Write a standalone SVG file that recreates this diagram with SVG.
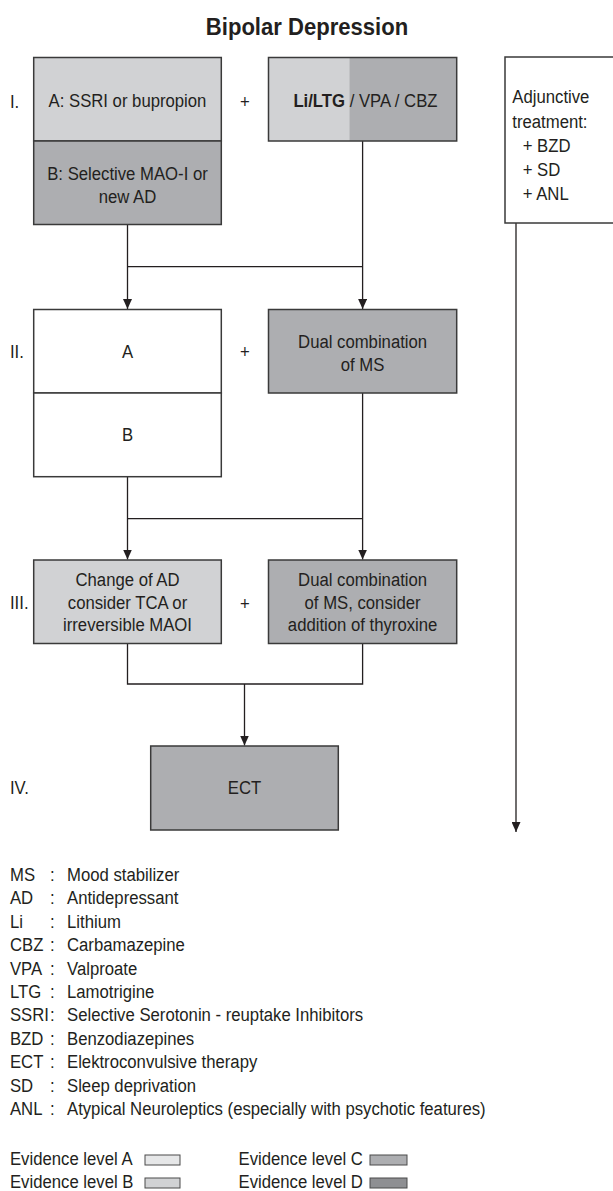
<svg xmlns="http://www.w3.org/2000/svg" width="613" height="1191" viewBox="0 0 613 1191">
<style>
.t{font-family:"Liberation Sans",Arial,sans-serif;font-size:19px;fill:#231f20}
.m{text-anchor:middle}
.b{font-weight:bold}
.box{stroke:#3a3a3a;stroke-width:1.5}
.lvA{fill:#e6e7e8}
.lvB{fill:#d1d2d4}
.lvC{fill:#adaeb1}
.lvD{fill:#8e8f92}
.w{fill:#ffffff}
.ln{fill:none;stroke:#231f20;stroke-width:1.3}
.sw{stroke:#4a4a4a;stroke-width:1}
</style>
<defs>
<marker id="arr" markerUnits="userSpaceOnUse" markerWidth="10" markerHeight="9" refX="10" refY="4.5" orient="auto">
<path d="M0,0 L10,4.5 L0,9 z" fill="#231f20"/>
</marker>
</defs>

<text x="307" y="35" class="t m b" font-size="23" transform="scale(0.96 1)" style="font-size:23px" dx="12.8">Bipolar Depression</text>

<g id="connectors">
<path class="ln" d="M127.5,224.5 V309" marker-end="url(#arr)"/>
<path class="ln" d="M362.6,141 V309" marker-end="url(#arr)"/>
<path class="ln" d="M127.5,266.7 H362.6"/>
<path class="ln" d="M127.5,476.7 V559.5" marker-end="url(#arr)"/>
<path class="ln" d="M362.6,393 V559.5" marker-end="url(#arr)"/>
<path class="ln" d="M127.5,518.7 H362.6"/>
<path class="ln" d="M127.5,643.5 V684 H362.6 V643.5"/>
<path class="ln" d="M244.5,684 V745.5" marker-end="url(#arr)"/>
<path class="ln" d="M516,223 V832" marker-end="url(#arr)"/>
</g>

<g id="labels">
<text class="t" transform="scale(0.88 1)" x="11.36" y="108">I.</text>
<text class="t" transform="scale(0.88 1)" x="11.36" y="358">II.</text>
<text class="t" transform="scale(0.88 1)" x="11.36" y="609">III.</text>
<text class="t" transform="scale(0.88 1)" x="11.36" y="794.5">IV.</text>
<text class="t m" transform="scale(0.88 1)" x="278.41" y="108">+</text>
<text class="t m" transform="scale(0.88 1)" x="278.41" y="358">+</text>
<text class="t m" transform="scale(0.88 1)" x="278.41" y="610">+</text>
</g>

<g id="node-1A">
<rect class="box lvB" x="33.7" y="57.5" width="187.6" height="83.5"/>
<text class="t m" transform="scale(0.88 1)" x="144.89" y="107.5">A: SSRI or bupropion</text>
</g>
<g id="node-1B">
<rect class="box lvC" x="33.7" y="141" width="187.6" height="83.5"/>
<text class="t m" transform="scale(0.88 1)" x="144.89" y="180.5">B: Selective MAO-I or</text>
<text class="t m" transform="scale(0.88 1)" x="144.89" y="203.5">new AD</text>
</g>
<g id="node-1MS">
<rect class="lvB" x="268.5" y="57.5" width="80.8" height="83.5"/>
<rect class="lvC" x="349.3" y="57.5" width="107.4" height="83.5"/>
<rect class="box" fill="none" x="268.5" y="57.5" width="188.2" height="83.5"/>
<text class="t m" transform="scale(0.88 1)" x="415.3" y="107.5"><tspan class="b">Li/LTG</tspan> / VPA / CBZ</text>
</g>
<g id="node-adjunctive">
<rect class="box w" x="505" y="57" width="120" height="166"/>
<text class="t" transform="scale(0.88 1)" x="582.2" y="103">Adjunctive</text>
<text class="t" transform="scale(0.88 1)" x="582.2" y="128">treatment:</text>
<text class="t" transform="scale(0.88 1)" x="594" y="152.5">+ BZD</text>
<text class="t" transform="scale(0.88 1)" x="594" y="176.5">+ SD</text>
<text class="t" transform="scale(0.88 1)" x="594" y="200">+ ANL</text>
</g>

<g id="node-2A">
<rect class="box w" x="33.7" y="309.5" width="187.6" height="83.5"/>
<text class="t m" transform="scale(0.88 1)" x="144.89" y="358">A</text>
</g>
<g id="node-2B">
<rect class="box w" x="33.7" y="393" width="187.6" height="83.7"/>
<text class="t m" transform="scale(0.88 1)" x="144.89" y="441.5">B</text>
</g>
<g id="node-2MS">
<rect class="box lvC" x="268.5" y="309.5" width="188.2" height="83.5"/>
<text class="t m" transform="scale(0.88 1)" x="412.05" y="348">Dual combination</text>
<text class="t m" transform="scale(0.88 1)" x="412.05" y="371.5">of MS</text>
</g>

<g id="node-3AD">
<rect class="box lvB" x="33.7" y="560" width="187.6" height="83.5"/>
<text class="t m" transform="scale(0.88 1)" x="144.89" y="586">Change of AD</text>
<text class="t m" transform="scale(0.88 1)" x="144.89" y="609">consider TCA or</text>
<text class="t m" transform="scale(0.88 1)" x="144.89" y="631.5">irreversible MAOI</text>
</g>
<g id="node-3MS">
<rect class="box lvC" x="268.5" y="560" width="188.2" height="83.5"/>
<text class="t m" transform="scale(0.88 1)" x="412.05" y="586">Dual combination</text>
<text class="t m" transform="scale(0.88 1)" x="412.05" y="609">of MS, consider</text>
<text class="t m" transform="scale(0.88 1)" x="412.05" y="631.5">addition of thyroxine</text>
</g>

<g id="node-ECT">
<rect class="box lvC" x="150.7" y="746" width="187.6" height="84"/>
<text class="t m" transform="scale(0.88 1)" x="277.84" y="794.5">ECT</text>
</g>

<g id="legend">
<text class="t" transform="scale(0.88 1)" x="11.36" y="881">MS</text>
<text class="t" transform="scale(0.88 1)" x="56.82" y="881">:</text>
<text class="t" transform="scale(0.88 1)" x="76.14" y="881">Mood stabilizer</text>
<text class="t" transform="scale(0.88 1)" x="11.36" y="904.4">AD</text>
<text class="t" transform="scale(0.88 1)" x="56.82" y="904.4">:</text>
<text class="t" transform="scale(0.88 1)" x="76.14" y="904.4">Antidepressant</text>
<text class="t" transform="scale(0.88 1)" x="11.36" y="927.8">Li</text>
<text class="t" transform="scale(0.88 1)" x="56.82" y="927.8">:</text>
<text class="t" transform="scale(0.88 1)" x="76.14" y="927.8">Lithium</text>
<text class="t" transform="scale(0.88 1)" x="11.36" y="951.2">CBZ</text>
<text class="t" transform="scale(0.88 1)" x="56.82" y="951.2">:</text>
<text class="t" transform="scale(0.88 1)" x="76.14" y="951.2">Carbamazepine</text>
<text class="t" transform="scale(0.88 1)" x="11.36" y="974.6">VPA</text>
<text class="t" transform="scale(0.88 1)" x="56.82" y="974.6">:</text>
<text class="t" transform="scale(0.88 1)" x="76.14" y="974.6">Valproate</text>
<text class="t" transform="scale(0.88 1)" x="11.36" y="998">LTG</text>
<text class="t" transform="scale(0.88 1)" x="56.82" y="998">:</text>
<text class="t" transform="scale(0.88 1)" x="76.14" y="998">Lamotrigine</text>
<text class="t" transform="scale(0.88 1)" x="11.36" y="1021.4">SSRI</text>
<text class="t" transform="scale(0.88 1)" x="56.82" y="1021.4">:</text>
<text class="t" transform="scale(0.88 1)" x="76.14" y="1021.4">Selective Serotonin - reuptake Inhibitors</text>
<text class="t" transform="scale(0.88 1)" x="11.36" y="1044.8">BZD</text>
<text class="t" transform="scale(0.88 1)" x="56.82" y="1044.8">:</text>
<text class="t" transform="scale(0.88 1)" x="76.14" y="1044.8">Benzodiazepines</text>
<text class="t" transform="scale(0.88 1)" x="11.36" y="1068.2">ECT</text>
<text class="t" transform="scale(0.88 1)" x="56.82" y="1068.2">:</text>
<text class="t" transform="scale(0.88 1)" x="76.14" y="1068.2">Elektroconvulsive therapy</text>
<text class="t" transform="scale(0.88 1)" x="11.36" y="1091.6">SD</text>
<text class="t" transform="scale(0.88 1)" x="56.82" y="1091.6">:</text>
<text class="t" transform="scale(0.88 1)" x="76.14" y="1091.6">Sleep deprivation</text>
<text class="t" transform="scale(0.88 1)" x="11.36" y="1115">ANL</text>
<text class="t" transform="scale(0.88 1)" x="56.82" y="1115">:</text>
<text class="t" transform="scale(0.88 1)" x="76.14" y="1115">Atypical Neuroleptics (especially with psychotic features)</text>
</g>

<g id="evidence-legend">
<text class="t" transform="scale(0.88 1)" x="11.36" y="1165">Evidence level A</text>
<rect class="sw lvA" x="145" y="1155" width="35" height="10"/>
<text class="t" transform="scale(0.88 1)" x="11.36" y="1188">Evidence level B</text>
<rect class="sw lvB" x="145" y="1178" width="35" height="10"/>
<text class="t" transform="scale(0.88 1)" x="271.02" y="1165">Evidence level C</text>
<rect class="sw lvC" x="370" y="1155" width="37" height="10"/>
<text class="t" transform="scale(0.88 1)" x="271.02" y="1188">Evidence level D</text>
<rect class="sw lvD" x="370" y="1178" width="37" height="10"/>
</g>
</svg>
